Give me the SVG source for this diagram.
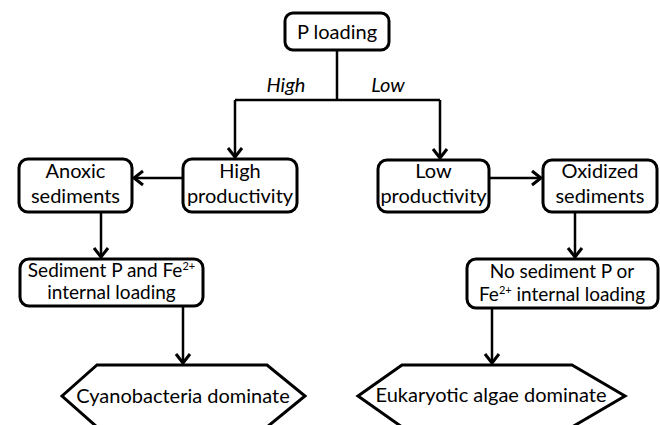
<svg xmlns="http://www.w3.org/2000/svg" width="660" height="425" viewBox="0 0 660 425">
<defs>
<style>
.box{fill:#fff;stroke:#000;stroke-width:3}
.hex{fill:#fff;stroke:#000;stroke-width:3;stroke-linejoin:miter}
.t{font-family:Lato,"Liberation Sans",sans-serif;font-size:20px;fill:#000;text-anchor:middle}
.s{font-size:19px}
.it{font-style:italic}
.sup{font-size:11px}
.ln{fill:none;stroke:#000;stroke-width:2.5}
.ar{fill:none;stroke:#000;stroke-width:2.5;marker-end:url(#ah)}
</style>
<marker id="ah" markerUnits="userSpaceOnUse" markerWidth="20" markerHeight="20" viewBox="-12 -10 14 20" refX="0" refY="0" orient="auto">
<path d="M-9,-7 L0,0 L-9,7" fill="none" stroke="#000" stroke-width="3"/>
</marker>
</defs>
<rect width="660" height="425" fill="#fff"/>
<g id="connectors">
<path class="ln" d="M337,50 V100 M235,100 H440"/>
<path class="ar" d="M235,100 V157"/>
<path class="ar" d="M440,100 V158"/>
<path class="ar" d="M183,178 H134"/>
<path class="ar" d="M489,178 H541"/>
<path class="ar" d="M101,212 V257"/>
<path class="ar" d="M575,212 V257"/>
<path class="ar" d="M183,306 V363"/>
<path class="ar" d="M492,308 V363"/>
<text class="t it" x="286" y="92">High</text>
<text class="t it" x="388" y="92">Low</text>
</g>
<g id="p_loading">
<rect class="box" x="285" y="13" width="104" height="37" rx="8"/>
<text class="t" x="337" y="39">P loading</text>
</g>
<g id="anoxic">
<rect class="box" x="19" y="159" width="113" height="53" rx="9"/>
<text class="t" x="75.5" y="178">Anoxic</text>
<text class="t" x="75.5" y="203">sediments</text>
</g>
<g id="high_productivity">
<rect class="box" x="183" y="159" width="114" height="53" rx="9"/>
<text class="t" x="240" y="178">High</text>
<text class="t" x="240" y="203">productivity</text>
</g>
<g id="low_productivity">
<rect class="box" x="378" y="160" width="111" height="52" rx="9"/>
<text class="t" x="433.5" y="178">Low</text>
<text class="t" x="433.5" y="203">productivity</text>
</g>
<g id="oxidized">
<rect class="box" x="543" y="160" width="114" height="52" rx="9"/>
<text class="t" x="600" y="178">Oxidized</text>
<text class="t" x="600" y="203">sediments</text>
</g>
<g id="sediment_loading">
<rect class="box" x="20" y="259" width="183" height="47" rx="9"/>
<text class="t s" x="111.5" y="277">Sediment P and Fe<tspan class="sup" dy="-7">2+</tspan></text>
<text class="t s" x="111.5" y="299">internal loading</text>
</g>
<g id="no_sediment_loading">
<rect class="box" x="467" y="259" width="191" height="49" rx="9"/>
<text class="t s" x="562" y="278">No sediment P or</text>
<text class="t s" x="562" y="301">Fe<tspan class="sup" dy="-7">2+</tspan><tspan dy="7"> internal loading</tspan></text>
</g>
<g id="cyanobacteria">
<polygon class="hex" points="62,396 97,365 267,365 305,396 267,427 97,427"/>
<text class="t" x="183" y="403">Cyanobacteria dominate</text>
</g>
<g id="eukaryotic">
<polygon class="hex" points="358,396 402,365 572,365 625,396 572,427 402,427"/>
<text class="t" x="491" y="402">Eukaryotic algae dominate</text>
</g>
</svg>
